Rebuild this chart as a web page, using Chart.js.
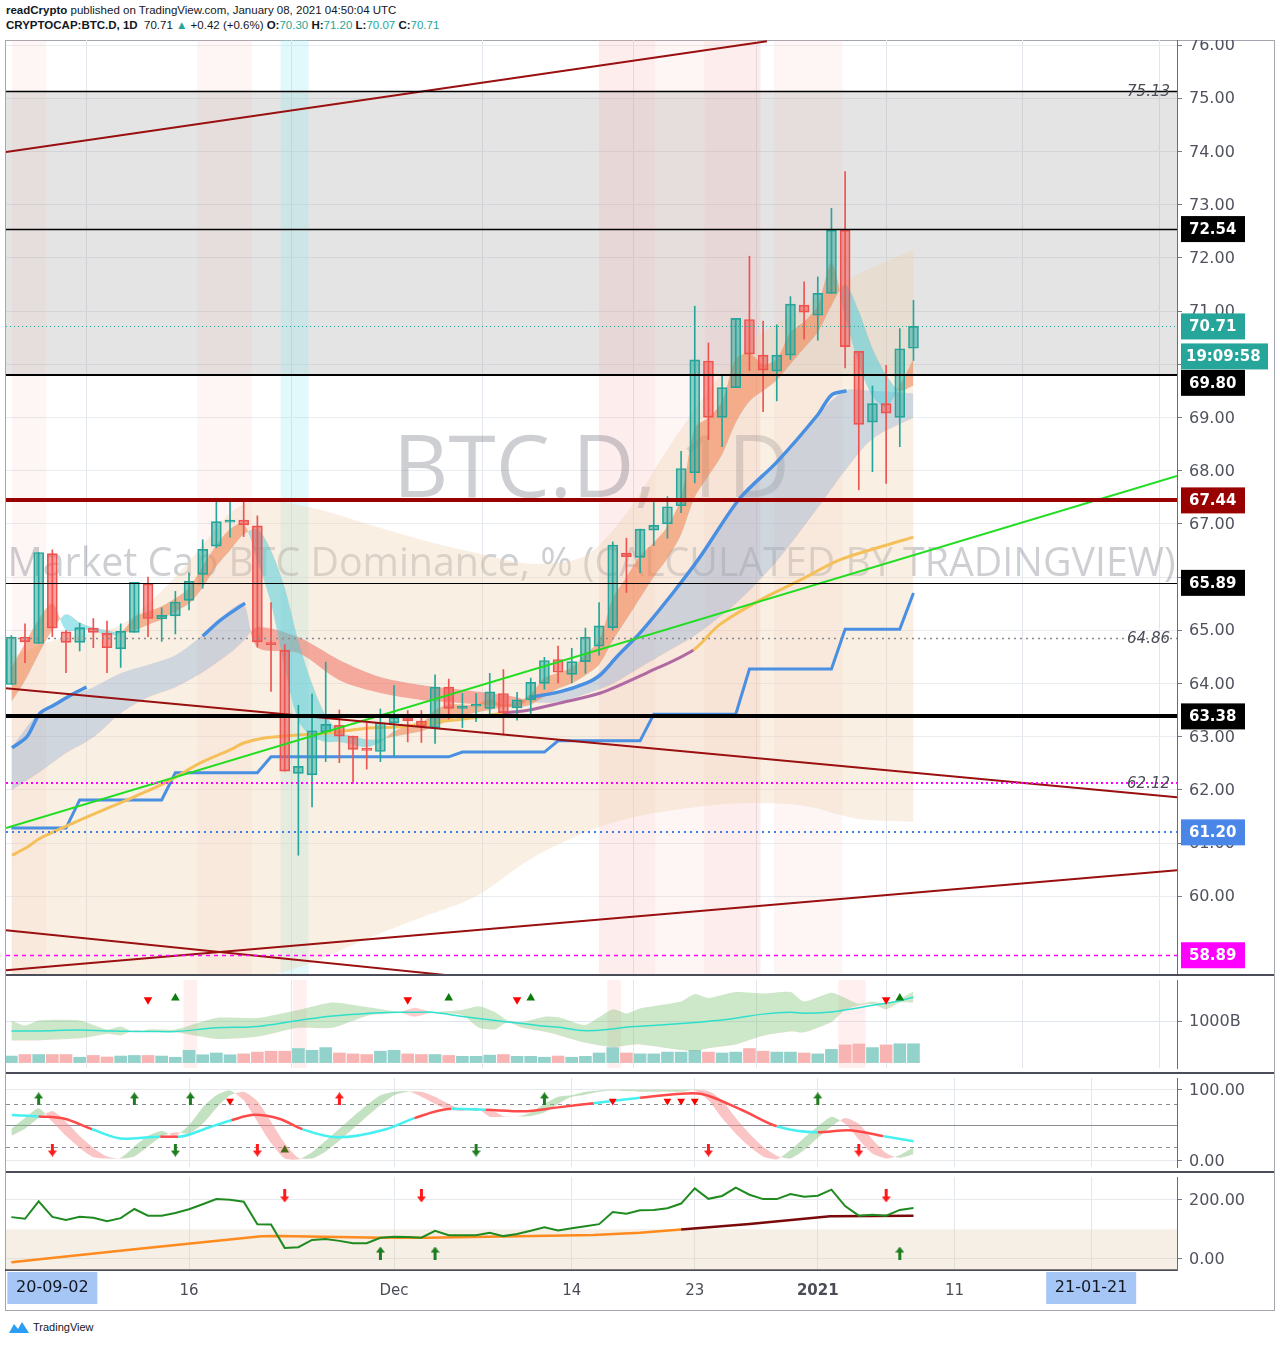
<!DOCTYPE html>
<html>
<head>
<meta charset="utf-8">
<title>BTC.D 1D</title>
<script src="https://cdn.jsdelivr.net/npm/chart.js@4.4.1/dist/chart.umd.min.js"></script>
<style>
  body { margin: 0; width: 1280px; height: 1345px; background: #fff; position: relative; overflow: hidden;
         font-family: "Liberation Sans", Arial, sans-serif; color: #131722; }
  .hdr { position: absolute; left: 6px; font-size: 11.5px; white-space: nowrap; }
  .t { color: #26a69a; }
  .pane { position: absolute; left: 0; }
  .frame { position: absolute; left: 5px; top: 40px; width: 1268px; height: 1269px; border: 1px solid #a3a6af; }
  .sep { position: absolute; left: 6px; width: 1268px; height: 2px; background: #4a4d57; }
  .foot { position: absolute; left: 8px; top: 1320px; font-size: 11px; display: flex; align-items: center; gap: 3px; }
</style>
</head>
<body>
<div class="hdr" style="top:4px"><b>readCrypto</b> published on TradingView.com, January 08, 2021 04:50:04 UTC</div>
<div class="hdr" style="top:19px"><b>CRYPTOCAP:BTC.D, 1D</b>&nbsp; 70.71 <span class="t">&#9650;</span> +0.42 (+0.6%) <b>O:</b><span class="t">70.30</span> <b>H:</b><span class="t">71.20</span> <b>L:</b><span class="t">70.07</span> <b>C:</b><span class="t">70.71</span></div>

<div class="frame"></div>
<canvas id="main" class="pane" width="1274" height="935" style="top:40px"></canvas>
<canvas id="vol" class="pane" width="1274" height="98" style="top:975px"></canvas>
<canvas id="osc" class="pane" width="1274" height="99" style="top:1073px"></canvas>
<canvas id="low" class="pane" width="1274" height="138" style="top:1172px"></canvas>
<div class="sep" style="top:974px"></div>
<div class="sep" style="top:1072px"></div>
<div class="sep" style="top:1171px"></div>

<div class="foot">
  <svg width="22" height="14" viewBox="0 0 22 14"><path d="M1 13 L6 4 L10 9 L14 2 L21 13 Z" fill="#2a9df4"/></svg>
  <span>TradingView</span>
</div>

<script>
// ---------- data (day index: 0 = 1 Nov 2020) ----------
const firstDay = 2;
const opens  = [63.98, 64.87, 64.75, 66.44, 64.97, 64.77, 65.04, 64.94, 64.65, 64.96, 65.87, 65.21, 65.27, 65.56, 66.05, 66.58, 67.03, 67.07, 66.96, 64.75, 64.62, 62.31, 62.28, 63.09, 63.21, 63.01, 62.75, 62.72, 63.26, 63.36, 63.29, 63.17, 63.93, 63.53, 63.57, 63.53, 63.81, 63.54, 63.69, 64.00, 64.45, 64.17, 64.41, 64.70, 65.05, 66.45, 66.37, 66.88, 67.00, 67.34, 67.96, 70.06, 69.00, 69.56, 70.84, 70.17, 69.87, 70.17, 71.11, 70.92, 71.33, 72.52, 70.24, 68.91, 69.26, 69.00, 70.30];
const highs  = [64.90, 65.12, 66.46, 66.51, 65.00, 65.13, 65.22, 65.17, 65.12, 65.90, 66.00, 65.42, 65.73, 66.08, 66.70, 67.42, 67.42, 67.42, 67.15, 65.52, 64.73, 63.59, 63.80, 64.40, 63.50, 63.01, 63.25, 63.52, 63.96, 63.49, 63.49, 64.16, 64.08, 63.81, 63.81, 64.19, 64.26, 63.83, 64.10, 64.49, 64.70, 64.66, 65.04, 65.52, 66.66, 66.73, 66.90, 67.40, 67.51, 68.36, 71.09, 70.40, 69.78, 70.86, 72.03, 70.81, 70.74, 71.27, 71.55, 71.64, 72.93, 73.62, 70.24, 69.59, 69.98, 70.67, 71.20];
const lows   = [63.98, 64.39, 64.75, 64.88, 64.20, 64.61, 64.67, 64.20, 64.30, 64.96, 64.88, 64.79, 64.93, 65.38, 65.79, 66.55, 66.75, 66.76, 64.68, 63.85, 62.35, 60.77, 61.68, 62.53, 62.51, 62.12, 62.39, 62.53, 62.63, 62.90, 62.89, 62.87, 63.33, 63.17, 63.28, 63.42, 63.03, 63.31, 63.41, 63.89, 64.01, 64.01, 64.19, 64.53, 65.00, 65.71, 66.08, 66.59, 66.73, 67.21, 67.77, 68.58, 68.45, 69.56, 69.88, 69.11, 69.31, 70.09, 70.47, 70.45, 71.33, 69.93, 67.64, 67.98, 67.76, 68.45, 70.07];
const closes = [64.87, 64.78, 66.46, 65.04, 64.77, 65.05, 64.96, 64.67, 64.98, 65.90, 65.22, 65.28, 65.53, 65.92, 66.52, 67.04, 67.07, 66.98, 64.78, 64.73, 62.35, 62.44, 63.11, 63.23, 63.01, 62.76, 62.74, 63.26, 63.36, 63.30, 63.20, 63.93, 63.53, 63.57, 63.60, 63.84, 63.45, 63.69, 64.02, 64.43, 64.21, 64.41, 64.87, 65.08, 66.60, 66.38, 66.90, 66.97, 67.32, 68.04, 70.08, 69.00, 69.56, 70.86, 70.19, 69.89, 70.17, 71.13, 70.98, 71.33, 72.52, 70.33, 68.87, 69.26, 69.08, 70.29, 70.71];
const volumes = [183, 225, 225, 225, 225, 150, 200, 158, 183, 200, 200, 183, 150, 343, 218, 268, 218, 243, 293, 318, 318, 393, 343, 418, 268, 243, 225, 318, 343, 243, 225, 225, 200, 175, 175, 208, 225, 175, 175, 150, 183, 150, 175, 268, 418, 268, 243, 243, 293, 293, 343, 293, 268, 293, 393, 318, 293, 293, 268, 243, 368, 493, 518, 418, 493, 525, 525];

// fast ribbon (per day)
const fastLine = [64.3, 64.75, 65.2, 65.5, 65.0, 65.0, 65.0, 64.9, 64.95, 65.25, 65.35, 65.45, 65.6, 65.8, 66.2, 66.6, 66.9, 67.0, 66.3, 65.5, 64.3, 63.3, 63.0, 62.9, 62.9, 62.85, 62.8, 62.9, 63.1, 63.2, 63.25, 63.5, 63.6, 63.6, 63.6, 63.7, 63.6, 63.65, 63.8, 64.1, 64.2, 64.3, 64.55, 64.8, 65.6, 66.0, 66.4, 66.65, 66.95, 67.5, 68.8, 69.0, 69.3, 70.1, 70.2, 70.0, 70.1, 70.6, 70.8, 71.1, 71.9, 70.9, 70.0, 69.4, 69.2, 69.6, 70.1];
const slowLine = [63.65, 64.05, 64.55, 65.0, 65.3, 65.15, 65.05, 65.0, 64.95, 65.0, 65.1, 65.2, 65.35, 65.5, 65.8, 66.2, 66.5, 66.8, 66.9, 66.5, 65.8, 64.8, 64.0, 63.4, 63.1, 63.0, 62.95, 62.95, 63.0, 63.05, 63.1, 63.2, 63.3, 63.4, 63.45, 63.5, 63.55, 63.55, 63.6, 63.75, 63.9, 64.0, 64.15, 64.35, 64.8, 65.2, 65.6, 66.0, 66.35, 66.8, 67.5, 67.9, 68.3, 68.9, 69.3, 69.5, 69.7, 70.0, 70.3, 70.6, 71.1, 71.5, 71.0, 70.3, 69.8, 69.5, 69.6];

// slower pair (blue / red band)
const trendDays = [2, 4, 6, 8, 10, 12, 14, 16, 18, 19, 20, 23, 26, 29, 32, 34, 37, 39, 40, 42, 44, 46, 48, 50, 52, 55, 58, 61, 63, 65, 68];
const trendA = [62.79, 63.44, 63.73, 63.93, 64.19, 64.35, 64.53, 64.91, 65.38, 65.5, 64.68, 64.57, 64.06, 63.82, 63.69, 63.65, 63.59, 63.57, 63.70, 63.84, 64.01, 64.45, 64.95, 65.60, 66.30, 67.40, 68.16, 69.05, 69.50, 69.50, 69.45];
const trendB = [61.99, 62.32, 62.69, 62.99, 63.44, 63.74, 63.93, 64.21, 64.57, 64.8, 65.06, 64.87, 64.44, 64.12, 63.97, 63.91, 63.82, 63.74, 63.65, 63.65, 63.8, 64.0, 64.3, 64.6, 64.9, 65.5, 66.3, 67.3, 68.0, 68.6, 69.0];
const blueDays = [2.05, 3.15, 4.1, 5.1, 6.5, 7.5, 7.6, 16.0, 17.3, 19.1, 19.2, 39.9, 42.1, 44.1, 45.1, 46.3, 48.0, 50.4, 52.4, 55.3, 58.0, 61.0, 62.0, 63.1];
const blueValues = [62.79, 63.0, 63.44, 63.59, 63.80, 63.93, null, 64.89, 65.19, 65.51, null, 63.74, 63.84, 64.01, 64.16, 64.50, 64.95, 65.70, 66.38, 67.48, 68.16, 69.05, 69.42, 69.50];

// wide envelope
const bandDays = [2, 5, 8, 10, 12, 14, 16, 18, 20, 24, 28, 32, 36, 40, 44, 47, 50, 53, 56, 60, 64, 68];
const bandTop = [64.5, 64.8, 64.95, 65.1, 65.5, 66.0, 66.6, 67.2, 67.45, 67.3, 67.0, 66.7, 66.45, 66.25, 66.4, 67.2, 68.4, 69.5, 70.4, 71.1, 71.7, 72.15];
const bandBottom = [58.4, 58.4, 58.4, 58.4, 58.4, 58.4, 58.4, 58.4, 58.45, 58.75, 59.2, 59.6, 60.0, 60.7, 61.2, 61.45, 61.6, 61.7, 61.75, 61.7, 61.45, 61.4];

// slow moving average
const maDays = [2.05, 3.15, 4.1, 7.0, 10.9, 13.4, 15.8, 18.0, 19.0, 20.4, 22.9, 25.3, 28.2, 30.2, 32.6, 35.6, 38.0, 39.9, 42.1, 45.1, 48.5, 51.9, 53.8, 56.8, 59.7, 62.6, 65.5, 68.0];
const maValues = [60.77, 60.92, 61.09, 61.43, 61.86, 62.15, 62.50, 62.75, 62.88, 62.97, 63.03, 63.07, 63.16, 63.18, 63.26, 63.35, 63.44, 63.50, 63.63, 63.82, 64.20, 64.63, 65.10, 65.57, 65.94, 66.32, 66.56, 66.75];
const stepLine = [61.28, 61.28, 61.28, 61.28, 61.28, 61.81, 61.81, 61.81, 61.81, 61.81, 61.81, 61.81, 62.32, 62.32, 62.32, 62.32, 62.32, 62.32, 62.32, 62.62, 62.62, 62.62, 62.62, 62.62, 62.62, 62.62, 62.62, 62.62, 62.62, 62.62, 62.62, 62.62, 62.62, 62.71, 62.71, 62.71, 62.71, 62.71, 62.71, 62.71, 62.92, 62.92, 62.92, 62.92, 62.92, 62.92, 62.92, 63.42, 63.42, 63.42, 63.42, 63.42, 63.42, 63.42, 64.27, 64.27, 64.27, 64.27, 64.27, 64.27, 64.27, 65.02, 65.02, 65.02, 65.02, 65.02, 65.70];

// trend lines: [day0, price0, day1, price1]
const trendLines = [[1.61, 73.99, 57.28, 76.07], [1.61, 63.91, 87.28, 61.86], [1.61, 58.61, 87.28, 60.49], [1.61, 59.36, 33.73, 58.52]];
const greenTrend = [1.61, 61.28, 87.28, 67.90];

// horizontal levels
const zoneTop = 75.13, zoneBottom = 69.80;
const levelPrices = [75.13, 72.54, 69.80, 67.44, 65.89, 64.86, 63.38, 62.12, 61.20, 58.89, 70.71];
const italicLevels = [75.13, 64.86, 62.12];
const tagPrices = [72.54, 70.71, 69.80, 67.44, 65.89, 63.38, 61.20, 58.89];
const lastPrice = 70.71, countdown = '19:09:58';
const priceTicks = [60, 61, 62, 63, 64, 65, 66, 67, 68, 69, 70, 71, 72, 73, 74, 75, 76];

// highlighted session columns [fromDay, toDay]
const pinkCols = [[2.05, 4.55], [15.6, 19.6], [45.0, 56.8], [45.0, 49.1], [52.7, 56.8], [57.8, 62.8]];
const cyanCols = [[21.7, 23.75]];
const volCols = [[14.6, 15.6], [22.6, 23.6], [45.6, 46.6], [62.5, 64.5]];

// pane 2 cloud
const cloudDays = [2, 3, 4, 7, 9, 10, 11, 12, 14, 17, 20, 23, 25.5, 28, 30.4, 31.5, 32.8, 35, 36.2, 37.4, 38.3, 39.4, 41.1, 42.1, 44, 46, 47, 48, 51, 52, 53, 55, 57, 59, 60, 62, 63, 64, 65, 66, 67, 68];
const cloudUpper = [53, 47.3, 53, 53, 43, 46.3, 40, 43, 43, 55.7, 55.7, 64.7, 73, 68, 62, 57, 62, 64.7, 68.7, 62, 53, 51.3, 57.3, 56.3, 48, 65.3, 60.7, 66.3, 74, 82.3, 78, 84.7, 83, 84.7, 74, 83.7, 78, 71.3, 74, 71.3, 77.3, 85.3];
const cloudLower = [30.7, 30.7, 30.7, 33, 38, 36.3, 42, 41, 39.7, 32.3, 34.7, 44.7, 44.7, 58, 62, 67, 62, 58.7, 44.7, 43, 51.3, 44.7, 40, 36.3, 28, 23, 25, 26.3, 20, 18.7, 22, 26.3, 36, 40.7, 39.7, 51.3, 64.7, 69.7, 71.3, 65.3, 73, 73];
const cloudMid = [41.3, 41.3, 41.3, 42.3, 41.3, 41, 40.7, 40.7, 40.7, 44.7, 46.3, 53, 58, 60.7, 62, 62, 62, 57.3, 55, 53, 51.3, 49.5, 46.5, 45.3, 41.5, 43.5, 45.5, 46.5, 49.5, 50.7, 52, 55.5, 60, 62, 61, 62.5, 64.7, 67, 70, 72, 75, 78.7];
const volSellDays = [12, 31, 39, 66], volBuyDays = [14, 34, 40, 67];

// pane 3 oscillator
const stochK = [45, 60, 74, 55, 35, 18, 5, 3, 4, 20, 35, 42, 35, 50, 75, 92, 99, 85, 55, 25, 3, 2, 12, 28, 45, 62, 78, 92, 97, 98, 90, 80, 72, 70, 75, 62, 62, 62, 68, 80, 90, 92, 97, 99, 100, 100, 100, 100, 100, 100, 99, 85, 60, 38, 20, 6, 2, 15, 32, 48, 62, 52, 30, 10, 3, 8, 19];
const stochD = [35, 45, 60, 70, 55, 35, 18, 6, 3, 6, 20, 34, 40, 38, 52, 74, 92, 97, 84, 55, 25, 4, 3, 13, 28, 45, 62, 78, 92, 97, 97, 90, 80, 72, 70, 72, 63, 62, 63, 68, 80, 90, 93, 97, 99, 98, 97, 97, 97, 97, 100, 98, 85, 60, 38, 20, 7, 3, 15, 32, 48, 60, 52, 30, 11, 4, 9];
const oscDays = [2.05, 4.0, 5.9, 7.9, 10.3, 12.9, 14.2, 16.4, 18.1, 19.8, 21.6, 23.3, 25.9, 29.4, 31.5, 34.2, 36.7, 39.4, 42.0, 44.6, 48.0, 51.9, 55.4, 58.0, 61.0, 63.2, 65.8, 68.0];
const oscValues = [64.2, 62.4, 59.1, 44.3, 30.8, 33.8, 33.8, 46.5, 57.0, 64.6, 59.1, 44.3, 32.9, 44.3, 59.9, 73.0, 71.8, 69.6, 75.1, 81.0, 88.6, 94.9, 71.8, 48.5, 40.1, 43.0, 34.6, 27.5];
const oscSegRed = [0, 1, 1, 0, 0, 1, 0, 0, 1, 1, 1, 0, 0, 0, 1, 0, 1, 1, 1, 0, 1, 1, 1, 0, 1, 1, 0];
const oscBuyTop = [4, 11, 15.1, 41, 61], oscRedUpTop = [26], oscSellMarks = [18, 46, 50, 51, 52];
const oscSellBottom = [5, 20, 53, 64], oscGreenDown = [14, 36], oscOliveUp = [22];

// pane 4
const lowerLine = [141, 135.5, 194.5, 141.9, 131.3, 141.9, 138.7, 126.8, 137.7, 168.7, 146.1, 146.1, 154.8, 167.7, 184.8, 202.3, 200, 193.5, 117.1, 116.1, 36.5, 38.7, 63.5, 66.8, 60.3, 52.6, 52.6, 71, 74.2, 73.2, 71, 94.5, 79.7, 79.7, 79.7, 88.1, 76.5, 83.9, 94.5, 106.5, 95.8, 103.2, 109.7, 117.1, 158.1, 152.6, 164.5, 165.5, 171, 187.1, 238.7, 203.2, 212.9, 241, 217.1, 202.3, 202.3, 219.4, 210.6, 213.9, 234.5, 178.4, 146.1, 149.4, 146.1, 165.5, 171.9];
const signalDays = [2, 11, 20.3, 21.6, 29, 32.4, 44.6, 48, 51, 56, 61.9, 68];
const signalValues = [-12, 32, 76, 77, 71, 71, 80, 88, 99, 118, 144, 146];
const lowSellDays = [22, 32, 66], lowBuyDays = [29, 33, 67];

// time axis
const xTickDays = [15, 30, 43, 52, 61, 71];
const xTickLabels = ['16', 'Dec', '14', '23', '2021', '11'];
const markerDays = [5, 81];
const markerLabels = ['20-09-02', '21-01-21'];

// ---------- helpers ----------
Chart.defaults.font.family = '"DejaVu Sans", sans-serif';
Chart.defaults.animation = false;
const X_MIN = 1.61, X_MAX = 87.28;
const gridDays = xTickDays.concat([81]);
const candleDays = opens.map((_, i) => firstDay + i);
const isUp = i => closes[i] >= opens[i];
const pts = (xs, ys) => xs.map((x, i) => ({ x: x, y: ys[i] }));
const at = (xs, v) => xs.map(x => ({ x: x, y: v }));

function timeAxis(h, border) {
    return {
        type: 'linear', min: X_MIN, max: X_MAX, offset: false,
        afterBuildTicks: s => { s.ticks = gridDays.map(v => ({ value: v })); },
        ticks: { display: false },
        grid: { color: '#e2e6ed', drawTicks: false },
        border: { display: !!border, color: '#4a4d57', width: 2 },
        afterFit: s => { s.height = h; }
    };
}
function priceAxis(min, max, ticks, gridColor) {
    return {
        type: 'linear', position: 'right', min: min, max: max,
        afterBuildTicks: s => { s.ticks = ticks.map(v => ({ value: v })); },
        ticks: { display: false },
        grid: { color: gridColor || '#eceef2', tickColor: '#787b86', tickLength: 5 },
        border: { display: true, color: '#6a6d78', width: 1 },
        afterFit: s => { s.width = 97; }
    };
}
function axisText(chart, items) {
    const ctx = chart.ctx, y = chart.scales.y;
    ctx.save();
    ctx.font = '16px "DejaVu Sans"';
    ctx.fillStyle = '#50535e';
    ctx.textBaseline = 'middle';
    items.forEach(it => ctx.fillText(it[1], 1189, y.getPixelForValue(it[0]) + 1));
    ctx.restore();
}
function columns(chart, list, color) {
    const { ctx, chartArea: a, scales: { x } } = chart;
    ctx.fillStyle = color;
    list.forEach(c => {
        const x0 = x.getPixelForValue(c[0]), x1 = x.getPixelForValue(c[1]);
        ctx.fillRect(x0, a.top, x1 - x0, a.bottom - a.top);
    });
}
function arrowIcon(color, up) {
    const c = document.createElement('canvas');
    c.width = 9; c.height = 13;
    const g = c.getContext('2d');
    g.fillStyle = color;
    g.beginPath();
    [[4.5, 0], [9, 6], [6, 6], [6, 13], [3, 13], [3, 6], [0, 6]].forEach((p, i) => {
        const yy = up ? p[1] : 13 - p[1];
        if (i) g.lineTo(p[0], yy); else g.moveTo(p[0], yy);
    });
    g.closePath();
    g.fill();
    return c;
}
function marks(data, style, color, rot, r) {
    return { data: data, showLine: false, pointStyle: style, rotation: rot || 0, pointRadius: r || 5,
             pointBackgroundColor: color, pointBorderWidth: 0, order: 0 };
}
const common = {
    responsive: false, events: [],
    layout: { padding: { left: 6, right: 0, top: 0, bottom: 0 } },
    plugins: { legend: { display: false }, tooltip: { enabled: false } }
};

// ---------- main pane ----------
const levelStyles = [
    { c: '#000000', w: 1.5 }, { c: '#000000', w: 1.5 }, { c: '#000000', w: 2 }, { c: '#990000', w: 4 },
    { c: '#000000', w: 1.2 }, { c: '#8a8a8a', w: 1.5, d: [2, 4] }, { c: '#000000', w: 4 },
    { c: '#ff00ff', w: 2, d: [2, 3] }, { c: '#3f7fe0', w: 2, d: [2, 4] }, { c: '#ff00ff', w: 1.5, d: [4, 4] },
    { c: '#26a69a', w: 1, d: [1, 3] }
];
const tagColors = ['#000000', '#26a69a', '#000000', '#990000', '#000000', '#000000', '#4a86e8', '#ff00ff'];
const tagShift = [0, 0, 8, 0, 0, 0, 0, 0];   // tags nudged to avoid the countdown box

const mainDeco = {
    id: 'mainDeco',
    beforeDatasetsDraw(chart) {
        const { ctx, chartArea: a, scales: { y } } = chart;
        ctx.save();
        ctx.beginPath(); ctx.rect(a.left, a.top, a.right - a.left, a.bottom - a.top); ctx.clip();
        const z0 = y.getPixelForValue(zoneTop), z1 = y.getPixelForValue(zoneBottom);
        ctx.fillStyle = 'rgba(150,150,150,0.26)';
        ctx.fillRect(a.left, z0, a.right - a.left, z1 - z0);
        columns(chart, pinkCols, 'rgba(250,160,160,0.11)');
        columns(chart, cyanCols, 'rgba(140,230,240,0.25)');
        // watermark
        ctx.fillStyle = 'rgba(120,123,134,0.36)';
        ctx.textAlign = 'center';
        ctx.textBaseline = 'alphabetic';
        const cx = (a.left + a.right) / 2;
        let t = 'BTC.D, 1D';
        ctx.font = '88px "Open Sans"';
        let s = 88 * 397 / ctx.measureText(t).width;
        ctx.font = s.toFixed(1) + 'px "Open Sans"';
        ctx.fillText(t, cx, 457);
        t = 'Market Cap BTC Dominance, % (CALCULATED BY TRADINGVIEW)';
        ctx.font = '42px "Open Sans"';
        s = 42 * 1168 / ctx.measureText(t).width;
        ctx.font = s.toFixed(1) + 'px "Open Sans"';
        ctx.fillText(t, cx, 536);
        ctx.restore();
    },
    afterDatasetsDraw(chart) {
        const { ctx, chartArea: a, scales: { y } } = chart;
        ctx.save();
        ctx.beginPath(); ctx.rect(a.left, a.top, a.right - a.left, a.bottom - a.top); ctx.clip();
        levelPrices.forEach((p, i) => {
            const st = levelStyles[i], yy = Math.round(y.getPixelForValue(p)) + (st.w % 2 ? 0.5 : 0);
            ctx.strokeStyle = st.c; ctx.lineWidth = st.w; ctx.setLineDash(st.d || []);
            ctx.beginPath(); ctx.moveTo(a.left, yy); ctx.lineTo(a.right, yy); ctx.stroke();
        });
        ctx.setLineDash([]);
        ctx.font = 'italic 15px "DejaVu Sans"';
        ctx.fillStyle = '#4a4d57';
        ctx.textAlign = 'right';
        ctx.textBaseline = 'middle';
        italicLevels.forEach(p => ctx.fillText(p.toFixed(2), 1170, y.getPixelForValue(p) + 1));
        ctx.restore();
    },
    afterDraw(chart) {
        const { ctx, scales: { y } } = chart;
        axisText(chart, priceTicks.map(v => [v, v.toFixed(2)]));
        ctx.save();
        ctx.textBaseline = 'middle';
        ctx.font = 'bold 15px "DejaVu Sans"';
        tagPrices.forEach((p, i) => {
            const yy = y.getPixelForValue(p) + tagShift[i];
            ctx.fillStyle = tagColors[i];
            ctx.fillRect(1181, yy - 13, 64, 26);
            ctx.fillStyle = '#ffffff';
            ctx.fillText(p.toFixed(2), 1189, yy + 1);
        });
        const yl = y.getPixelForValue(lastPrice) + 30;
        ctx.fillStyle = '#26a69a';
        ctx.fillRect(1181, yl - 13, 87, 26);
        ctx.fillStyle = '#ffffff';
        ctx.fillText(countdown, 1186, yl + 1);
        ctx.restore();
    }
};

const candleFill = candleDays.map((_, i) => isUp(i) ? 'rgba(38,166,154,0.5)' : 'rgba(239,83,80,0.55)');
const candleLine = candleDays.map((_, i) => isUp(i) ? '#26a69a' : '#ef5350');
const line = (data, extra) => Object.assign({ data: data, pointRadius: 0, borderWidth: 0, fill: false }, extra);

new Chart(document.getElementById('main'), {
    type: 'line',
    data: {
        datasets: [
            line(pts(bandDays, bandTop), { fill: '+1', backgroundColor: 'rgba(238,212,178,0.36)', tension: 0.3, order: 10 }),
            line(pts(bandDays, bandBottom), { tension: 0.3, order: 10 }),
            line(pts(trendDays, trendA), { fill: { target: '+1', above: 'rgba(110,155,210,0.3)', below: 'rgba(242,100,85,0.5)' }, tension: 0.3, order: 9 }),
            line(pts(trendDays, trendB), { tension: 0.3, order: 9 }),
            line(pts(candleDays, fastLine), { fill: { target: '+1', above: 'rgba(240,128,76,0.55)', below: 'rgba(72,204,220,0.5)' }, tension: 0.3, order: 8 }),
            line(pts(candleDays, slowLine), { tension: 0.3, order: 8 }),
            line(pts(maDays, maValues), { borderWidth: 3, borderColor: '#f5c05a', tension: 0.3, order: 6,
                segment: { borderColor: c => (c.p0.parsed.x >= 38 && c.p1.parsed.x <= 51.95) ? '#b06aa3' : '#f5c05a' } }),
            line(pts(candleDays, stepLine), { borderWidth: 3, borderColor: '#4a90e2', order: 6 }),
            line(pts(blueDays, blueValues), { borderWidth: 3.5, borderColor: '#4a90e2', tension: 0.3, spanGaps: false, order: 6 }),
            { type: 'bar', data: candleDays.map((d, i) => ({ x: d, y: [lows[i], highs[i]] })), backgroundColor: candleLine,
              barThickness: 1, grouped: false, order: 3 },
            { type: 'bar', data: candleDays.map((d, i) => ({ x: d, y: [opens[i], closes[i]] })), backgroundColor: candleFill,
              borderColor: candleLine, borderWidth: 1, borderSkipped: false, barThickness: 10, minBarLength: 2, grouped: false, order: 2 },
            ...trendLines.map(t => line([{ x: t[0], y: t[1] }, { x: t[2], y: t[3] }], { borderWidth: 2, borderColor: '#9a0f0f', order: 1 })),
            line([{ x: greenTrend[0], y: greenTrend[1] }, { x: greenTrend[2], y: greenTrend[3] }], { borderWidth: 2, borderColor: '#22dd22', order: 1 })
        ]
    },
    options: Object.assign({}, common, {
        scales: { x: timeAxis(0), y: priceAxis(58.519, 76.094, priceTicks, '#e9ecf0') }
    }),
    plugins: [mainDeco]
});

// ---------- pane 2: volume + cloud ----------
new Chart(document.getElementById('vol'), {
    type: 'line',
    data: {
        datasets: [
            { type: 'bar', yAxisID: 'vol', data: candleDays.map((d, i) => ({ x: d, y: volumes[i] })),
              backgroundColor: candleDays.map((_, i) => isUp(i) ? '#93d2cb' : '#f8b4b3'), barThickness: 12, grouped: false, order: 6 },
            line(pts(cloudDays, cloudUpper), { fill: { target: '+1', above: 'rgba(130,195,120,0.4)', below: 'rgba(255,140,140,0.45)' }, tension: 0.2, order: 4 }),
            line(pts(cloudDays, cloudLower), { tension: 0.2, order: 4 }),
            line(pts(cloudDays, cloudMid), { borderWidth: 1.5, borderColor: '#2ee0cc', tension: 0.4, order: 3 }),
            marks(at(volSellDays, 76), 'triangle', '#ff0000', 180, 5),
            marks(at(volBuyDays, 78), 'triangle', '#0a7d0a', 0, 5)
        ]
    },
    options: Object.assign({}, common, {
        scales: {
            x: timeAxis(0), y: priceAxis(0, 98, [52], '#dde6ef'),
            vol: { display: false, min: -150, max: 2300 }
        }
    }),
    plugins: [{
        id: 'volDeco',
        beforeDatasetsDraw(chart) { chart.ctx.save(); columns(chart, volCols, 'rgba(255,175,175,0.2)'); chart.ctx.restore(); },
        afterDraw(chart) { axisText(chart, [[52, '1000B']]); }
    }]
});

// ---------- pane 3: oscillator ----------
const upG = arrowIcon('#1e7d1e', true), dnG = arrowIcon('#1e7d1e', false);
const upR = arrowIcon('#ff1a1a', true), dnR = arrowIcon('#ff1a1a', false);
new Chart(document.getElementById('osc'), {
    type: 'line',
    data: {
        datasets: [
            line(pts(candleDays, stochK), { fill: { target: '+1', above: 'rgba(120,190,120,0.45)', below: 'rgba(250,140,140,0.5)' }, tension: 0.2, order: 5 }),
            line(pts(candleDays, stochD), { tension: 0.2, order: 5 }),
            line(pts(oscDays, oscValues), { borderWidth: 2.5, borderColor: '#45f0f0', cubicInterpolationMode: 'monotone', order: 2,
                segment: { borderColor: c => oscSegRed[c.p0DataIndex] ? '#ff4a4a' : '#45f0f0' } }),
            marks(at(oscBuyTop, 87), upG),
            marks(at(oscRedUpTop, 87), upR),
            marks(at(oscSellMarks, 84), 'triangle', '#ff0000', 180, 4.5),
            marks(at(oscSellBottom, 15), dnR),
            marks(at(oscGreenDown, 15), dnG),
            marks(at(oscOliveUp, 15), 'triangle', '#4a6a1a', 0, 5)
        ]
    },
    options: Object.assign({}, common, {
        scales: { x: timeAxis(0), y: priceAxis(-8.86, 116.46, [0, 100], '#e6e9ee') }
    }),
    plugins: [{
        id: 'oscDeco',
        beforeDatasetsDraw(chart) {
            const { ctx, chartArea: a, scales: { y } } = chart;
            ctx.save();
            ctx.strokeStyle = '#8a8d96'; ctx.lineWidth = 1;
            [[80, [4, 4]], [20, [4, 4]], [50, []]].forEach(l => {
                const yy = Math.round(y.getPixelForValue(l[0])) + 0.5;
                ctx.setLineDash(l[1]);
                ctx.beginPath(); ctx.moveTo(a.left, yy); ctx.lineTo(a.right, yy); ctx.stroke();
            });
            ctx.restore();
        },
        afterDraw(chart) { axisText(chart, [[100, '100.00'], [0, '0.00']]); }
    }]
});

// ---------- pane 4: lower indicator + time axis ----------
new Chart(document.getElementById('low'), {
    type: 'line',
    data: {
        datasets: [
            line(pts(candleDays, lowerLine), { borderWidth: 2, borderColor: '#1f8a1f', order: 3 }),
            line(pts(signalDays, signalValues), { borderWidth: 2.5, borderColor: '#ff8a1e', order: 3,
                segment: { borderColor: c => c.p0.parsed.x >= 51 ? '#7a0a0a' : '#ff8a1e' } }),
            marks(at(lowSellDays, 213), dnR),
            marks(at(lowBuyDays, 19), upG)
        ]
    },
    options: Object.assign({}, common, {
        scales: { x: timeAxis(40, true), y: priceAxis(-38.7, 277.4, [0, 200], '#e6e9ee') }
    }),
    plugins: [{
        id: 'lowDeco',
        beforeDatasetsDraw(chart) {
            const { ctx, chartArea: a, scales: { y } } = chart;
            const yy = y.getPixelForValue(100);
            ctx.save();
            ctx.fillStyle = 'rgba(225,210,180,0.35)';
            ctx.fillRect(a.left, yy, a.right - a.left, a.bottom - yy);
            ctx.restore();
        },
        afterDraw(chart) {
            axisText(chart, [[200, '200.00'], [0, '0.00']]);
            const { ctx, chartArea: a, scales: { x } } = chart;
            ctx.save();
            ctx.textAlign = 'center';
            ctx.textBaseline = 'middle';
            ctx.fillStyle = '#4a4d57';
            xTickDays.forEach((d, i) => {
                ctx.font = (xTickLabels[i] === '2021' ? 'bold ' : '') + '15px "DejaVu Sans"';
                ctx.fillText(xTickLabels[i], x.getPixelForValue(d), a.bottom + 21);
            });
            ctx.font = '16px "DejaVu Sans"';
            markerDays.forEach((d, i) => {
                const cx = x.getPixelForValue(d);
                ctx.fillStyle = '#a6c6f5';
                ctx.fillRect(cx - 45, a.bottom + 2, 90, 32);
                ctx.fillStyle = '#131722';
                ctx.fillText(markerLabels[i], cx, a.bottom + 18);
            });
            ctx.restore();
        }
    }]
});
</script>
</body>
</html>
